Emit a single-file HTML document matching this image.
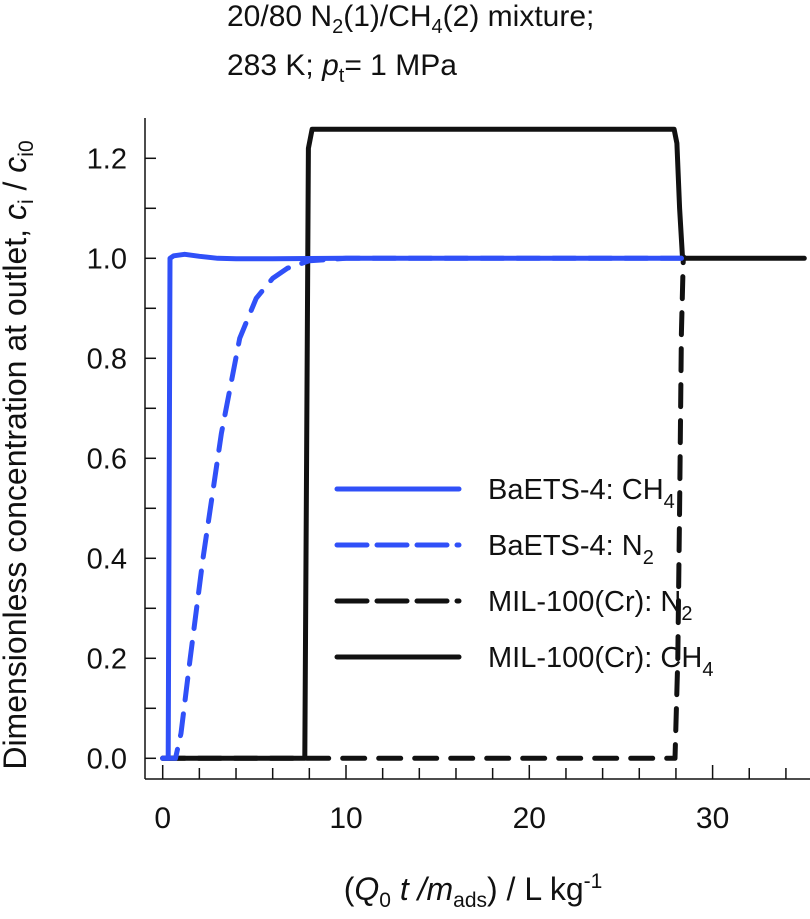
<!DOCTYPE html>
<html><head><meta charset="utf-8"><style>
body{margin:0;background:#fff;}
svg{display:block;font-family:"Liberation Sans",Arial,sans-serif;}
</style></head><body>
<svg id="chart" width="810" height="919" viewBox="0 0 810 919">
<g id="title" font-size="30" fill="#111">
<text x="227" y="26">20/80 N<tspan font-size="20" dy="7">2</tspan><tspan dy="-7">(1)/CH</tspan><tspan font-size="20" dy="7">4</tspan><tspan dy="-7">(2) mixture;</tspan></text>
<text x="227" y="75">283 K; <tspan font-style="italic">p</tspan><tspan font-size="20" dy="7">t</tspan><tspan dy="-7">= 1 MPa</tspan></text>
</g>
<g id="axes"></g>
<g id="series"></g>
<g id="legend"></g>
<text transform="translate(26,455) rotate(-90)" text-anchor="middle" font-size="32" fill="#111">Dimensionless concentration at outlet, <tspan font-style="italic">c</tspan><tspan font-size="21" dy="7">i</tspan><tspan dy="-7"> / </tspan><tspan font-style="italic">c</tspan><tspan font-size="21" dy="7">i0</tspan></text>
<text x="473" y="900" text-anchor="middle" font-size="32" fill="#111">(<tspan font-style="italic">Q</tspan><tspan font-size="21" dy="7">0</tspan><tspan dy="-7" font-style="italic"> t /m</tspan><tspan font-size="21" dy="7">ads</tspan><tspan dy="-7">) / L kg</tspan><tspan font-size="21" dy="-12">-1</tspan></text>
</svg>
<script>
const xTicks=[0,10,20,30];
const yTicks=[0.0,0.2,0.4,0.6,0.8,1.0,1.2];
const baetsCH4X=[0,0.3,0.4,0.6,1.2,2,3,4,6,10,20,28.3];
const baetsCH4Y=[0,0,1.0,1.005,1.008,1.004,1.0,0.999,0.999,1.0,1.0,1.0];
const baetsN2X=[0,0.7,1.0,1.5,2.2,3.2,4.2,5.1,6.0,6.8,8,10,20,28.3];
const baetsN2Y=[0,0,0.05,0.2,0.4,0.65,0.84,0.92,0.96,0.98,0.995,1.0,1.0,1.0];
const milN2X=[0,27.95,28.1,28.2,28.3,28.4];
const milN2Y=[0,0,0.2,0.5,0.85,1.0];
const milCH4X=[0,7.75,7.85,7.95,8.15,20,27.9,28.05,28.2,28.35,28.5,35];
const milCH4Y=[0,0,0.6,1.22,1.258,1.258,1.258,1.23,1.1,1.005,1.0,1.0];
const X=v=>162.7+v*18.33, Y=v=>758.3-v*500;
const NS="http://www.w3.org/2000/svg";
function mk(tag,attrs,parent){const e=document.createElementNS(NS,tag);for(const k in attrs)e.setAttribute(k,attrs[k]);parent.appendChild(e);return e;}
const axes=document.getElementById('axes');
let a=mk('line',{x1:145,y1:118,x2:145,y2:779,stroke:'#111','stroke-width':1.5},axes);


a=mk('line',{x1:145,y1:779,x2:810,y2:779,stroke:'#111','stroke-width':1.5},axes);


for(let v=0;v<=1.28;v+=0.1){const t=mk('line',{x1:145,x2:156,y1:Y(v),y2:Y(v),stroke:'#111','stroke-width':1.5},axes);

}
for(let v=0;v<=35;v+=2){const t=mk('line',{x1:X(v),x2:X(v),y1:779,y2:v%10==0?765:768,stroke:'#111','stroke-width':1.5},axes);

}
yTicks.forEach(v=>{const t=mk('text',{x:127,y:Y(v)+10,'text-anchor':'end','font-size':29,fill:'#111'},axes);t.textContent=v.toFixed(1);

});
xTicks.forEach(v=>{const t=mk('text',{x:X(v),y:828,'text-anchor':'middle','font-size':30,fill:'#111'},axes);t.textContent=v;

});
const ser=document.getElementById('series');
function line(xs,ys,color,dash,name){const d=xs.map((x,i)=>(i?'L':'M')+X(x).toFixed(1)+','+Y(ys[i]).toFixed(1)).join('');
const p=mk('path',{d:d,fill:'none',stroke:color,'stroke-width':5,'stroke-linejoin':'round','stroke-linecap':'round'},ser);
if(dash)p.setAttribute('stroke-dasharray',dash);

}
line(milCH4X,milCH4Y,'#111','', 'mil-ch4-line');
line(milN2X,milN2Y,'#111','22 14','mil-n2-line');
line(baetsN2X,baetsN2Y,'#3050f8','22 14','baets-n2-line');
line(baetsCH4X,baetsCH4Y,'#3050f8','','baets-ch4-line');
const lg=document.getElementById('legend');
const entries=[['#3050f8','','BaETS-4: CH','4',489],['#3050f8','30 10','BaETS-4: N','2',545],['#111','30 10','MIL-100(Cr): N','2',601],['#111','','MIL-100(Cr): CH','4',657]];
entries.forEach(e=>{const g=mk('g',{},lg);


const l=mk('line',{x1:337,x2:459,y1:e[4],y2:e[4],stroke:e[0],'stroke-width':5,'stroke-linecap':'round'},g);
if(e[1])l.setAttribute('stroke-dasharray',e[1]);
const t=mk('text',{x:488,y:e[4]+10,'font-size':29,fill:'#111'},g);
t.textContent=e[2];
const s=mk('tspan',{'font-size':20,dy:9},t);s.textContent=e[3];});
</script>
</body></html>
